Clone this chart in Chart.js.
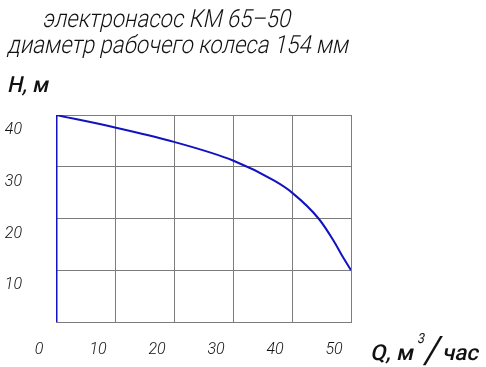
<!DOCTYPE html>
<html>
<head>
<meta charset="utf-8">
<script src="https://cdn.jsdelivr.net/npm/chart.js@4/dist/chart.umd.min.js"></script>
<style>
  html, body { margin: 0; padding: 0; background: #fff; }
  #wrap { width: 486px; height: 367px; position: relative; }
</style>
</head>
<body>
<div id="wrap"><canvas id="pumpChart" width="486" height="367"></canvas></div>
<script>
// pump curve KM 65-50 (grid units)
const flowQ = [0, 10, 20, 30, 37, 40, 44.5, 47, 48.6, 50];
const headH = [40, 37.6, 34.8, 31.2, 27.3, 25.0, 20.0, 15.8, 12.6, 10];
const axisQ = [0, 0];
const axisH = [0, 40];
const xTicks = [0, 10, 20, 30, 40, 50];
const yTicks = [0, 10, 20, 30, 40];

const titleLine1 = 'электронасос КМ 65–50';
const titleLine2 = 'диаметр рабочего колеса 154 мм';
const yTitle = 'H, м';

const FONT = "Roboto, 'DejaVu Sans Condensed', sans-serif";
const BLUE = '#1212c0';
const GRID = '#7c7c7c';
const SLANT = -0.22;

// draws slanted text squeezed/stretched to a given width
function fitText(ctx, text, x, y, width, font) {
    ctx.save();
    ctx.font = font;
    const w = ctx.measureText(text).width;
    ctx.translate(x, y);
    ctx.transform(1, 0, SLANT, 1, 0, 0);
    ctx.scale(width / w, 1);
    ctx.fillText(text, 0, 0);
    ctx.restore();
}

const textPlugin = {
    id: 'pumpText',
    afterDraw(chart) {
        const ctx = chart.ctx;
        ctx.save();
        ctx.fillStyle = '#111';
        ctx.textBaseline = 'alphabetic';
        ctx.textAlign = 'left';
        fitText(ctx, titleLine1, 42, 27, 248, `300 25px ${FONT}`);
        fitText(ctx, titleLine2, 7, 53, 341, `300 25px ${FONT}`);
        fitText(ctx, yTitle, 7, 92, 41, `500 22px ${FONT}`);
        // Q, м³/час
        fitText(ctx, 'Q, м', 370, 360, 43, `500 22px ${FONT}`);
        fitText(ctx, '3', 417, 343, 7, `400 14px ${FONT}`);
        fitText(ctx, '/', 423, 363, 15, `400 38px ${FONT}`);
        fitText(ctx, 'час', 442, 360, 36, `500 22px ${FONT}`);
        ctx.restore();
    }
};

new Chart(document.getElementById('pumpChart'), {
    type: 'scatter',
    data: {
        datasets: [
            {
                data: flowQ.map((q, i) => ({ x: q, y: headH[i] })),
                showLine: true,
                borderColor: BLUE,
                borderWidth: 2,
                pointRadius: 0,
                cubicInterpolationMode: 'monotone'
            },
            {
                data: axisQ.map((q, i) => ({ x: q, y: axisH[i] })),
                showLine: true,
                borderColor: BLUE,
                borderWidth: 3,
                pointRadius: 0
            }
        ]
    },
    options: {
        responsive: false,
        animation: false,
        events: [],
        layout: { padding: { top: 115, right: 135, left: 0, bottom: 0 } },
        plugins: { legend: { display: false }, title: { display: false }, tooltip: { enabled: false } },
        scales: {
            x: {
                type: 'linear',
                min: 0, max: 50,
                afterFit: s => { s.height = 45; },
                afterBuildTicks: s => { s.ticks = xTicks.map(v => ({ value: v })); },
                grid: { color: GRID, lineWidth: 1, drawTicks: false },
                border: { color: GRID },
                ticks: {
                    padding: 18,
                    labelOffset: -17,
                    color: '#111',
                    font: { family: FONT, size: 16, style: 'italic', weight: 300 }
                }
            },
            y: {
                type: 'linear',
                min: 0, max: 40,
                afterFit: s => { s.width = 56; },
                afterBuildTicks: s => { s.ticks = yTicks.map(v => ({ value: v })); },
                grid: { color: GRID, lineWidth: 1, drawTicks: false },
                border: { color: GRID },
                ticks: {
                    padding: 34,
                    labelOffset: 15,
                    color: '#111',
                    font: { family: FONT, size: 16, style: 'italic', weight: 300 },
                    callback: v => (v === 0 ? '' : v)
                }
            }
        }
    },
    plugins: [textPlugin]
});
</script>
</body>
</html>
